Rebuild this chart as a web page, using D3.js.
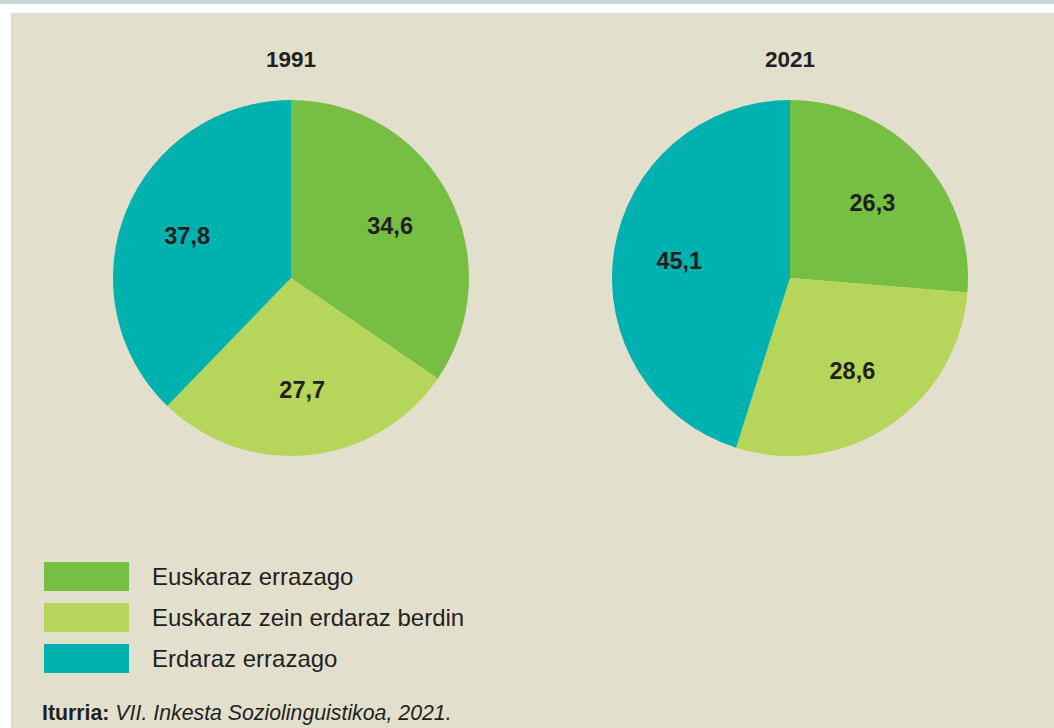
<!DOCTYPE html>
<html><head><meta charset="utf-8">
<script src="https://cdn.jsdelivr.net/npm/d3@7"></script>
<style>
html,body{margin:0;padding:0;background:#fff;}
svg{display:block;font-family:"Liberation Sans",Arial,Helvetica,sans-serif;}
</style></head><body>
<svg id="chart" width="1054" height="728"></svg>
<script>
const categories = ["Euskaraz errazago", "Euskaraz zein erdaraz berdin", "Erdaraz errazago"];
const years = ["1991", "2021"];
const values1991 = [34.6, 27.7, 37.8];
const values2021 = [26.3, 28.6, 45.1];
const colors = ["#76bf43", "#b6d55b", "#00b2af"];
const sourceLabel = "Iturria:";
const sourceText = "VII. Inkesta Soziolinguistikoa, 2021.";

const svg = d3.select("#chart");
svg.append("rect").attr("x",0).attr("y",0).attr("width",1054).attr("height",4).attr("fill","#c5d8d3");
svg.append("rect").attr("x",11).attr("y",13).attr("width",1043).attr("height",715).attr("fill","#e3dfcd");

const color = d3.scaleOrdinal().domain(categories).range(colors);
const fmt = v => d3.format(".1f")(v).replace(".", ",");
const centerX = d3.scalePoint().domain(years).range([291, 790]);
const R = 178, cy = 278;
const pie = d3.pie().sort(null).value(d => d.v);
const arc = d3.arc().innerRadius(0).outerRadius(R);
const labelArc = d3.arc().innerRadius(112).outerRadius(112);

[values1991, values2021].forEach((vals, i) => {
  const yr = years[i];
  const g = svg.append("g").attr("transform", `translate(${centerX(yr)},${cy})`);
  const data = pie(categories.map((c, j) => ({c, v: vals[j]})));
  g.selectAll("path").data(data).join("path")
    .attr("d", arc).attr("fill", d => color(d.data.c));
  g.selectAll("text.v").data(data).join("text").attr("class","v")
    .attr("transform", d => `translate(${labelArc.centroid(d)})`)
    .attr("text-anchor","middle").attr("dy","0.36em")
    .attr("font-size",23.5).attr("font-weight","bold").attr("fill","#231f20")
    .text(d => fmt(d.data.v));
  svg.append("text").attr("x", centerX(yr)).attr("y", 67)
    .attr("text-anchor","middle").attr("font-size",22.5).attr("font-weight","bold")
    .attr("fill","#231f20").text(yr);
});

const leg = svg.append("g");
const ly = d3.scaleBand().domain(categories).range([562, 673]).paddingInner(12/41).paddingOuter(0);
categories.forEach(c => {
  leg.append("rect").attr("x",44).attr("y",ly(c)).attr("width",85).attr("height",ly.bandwidth()).attr("fill",color(c));
  leg.append("text").attr("x",152).attr("y",ly(c)+23).attr("font-size",24).attr("fill","#231f20").text(c);
});

const src = svg.append("text").attr("x",42).attr("y",720).attr("font-size",21.3).attr("fill","#231f20");
src.append("tspan").attr("font-weight","bold").text(sourceLabel);
src.append("tspan").attr("font-style","italic").text(" " + sourceText);
</script>
</body></html>
